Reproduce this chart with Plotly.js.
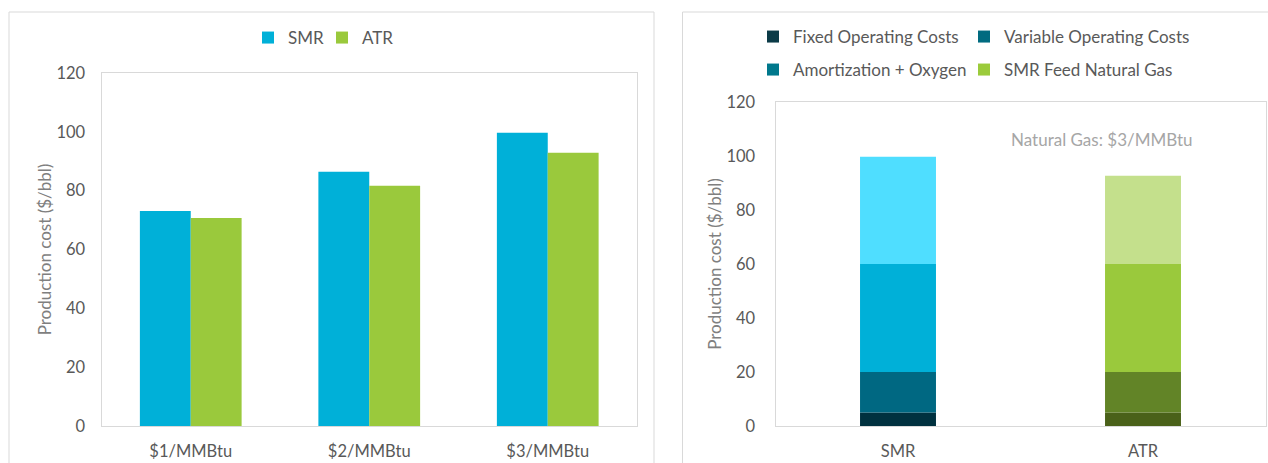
<!DOCTYPE html>
<html>
<head>
<meta charset="utf-8">
<script src="https://cdn.plot.ly/plotly-3.0.1.min.js"></script>
<style>html,body{margin:0;padding:0;background:#fff;}#chart{width:1268px;height:463px;}</style>
</head>
<body>
<div id="chart"></div>
<script>
// ---- Data ----
const priceCategories = ['$1/MMBtu', '$2/MMBtu', '$3/MMBtu'];
const smrCost = [73.1, 86.4, 99.7];
const atrCost = [70.7, 81.7, 92.9];

const processCategories = ['SMR', 'ATR'];
const fixedOperating = [5, 5];
const variableOperating = [15, 15];
const amortizationOxygen = [40, 40];
const feedNaturalGas = [39.7, 32.7];

const componentNames = ['Fixed Operating Costs', 'Variable Operating Costs', 'Amortization + Oxygen', 'SMR Feed Natural Gas'];
const annotationText = 'Natural Gas: $3/MMBtu';

// ---- Styling ----
const FONT = 'Lato, "Open Sans", sans-serif';
const segColors = [
  ['#00313f', '#4a6119'],
  ['#006882', '#628427'],
  ['#00b0d8', '#9ac93c'],
  ['#4fdeff', '#c4e08c']
];
const legendColors = ['#0b3b47', '#006b80', '#00788c', '#9bcb3b'];

const traces = [];
traces.push({type: 'bar', name: 'SMR', x: priceCategories, y: smrCost, marker: {color: '#00b0d8'}, xaxis: 'x', yaxis: 'y', legend: 'legend', hoverinfo: 'y'});
traces.push({type: 'bar', name: 'ATR', x: priceCategories, y: atrCost, marker: {color: '#9ac93c'}, xaxis: 'x', yaxis: 'y', legend: 'legend2', hoverinfo: 'y'});

const series = [fixedOperating, variableOperating, amortizationOxygen, feedNaturalGas];
const base = processCategories.map(() => 0);
series.forEach((vals, i) => {
  traces.push({
    type: 'bar', name: componentNames[i], x: processCategories, y: vals,
    base: base.slice(), offsetgroup: 'stk', width: 0.31, offset: -0.155,
    marker: {color: segColors[i]}, xaxis: 'x2', yaxis: 'y2', showlegend: false, hoverinfo: 'y'
  });
  vals.forEach((v, j) => { base[j] += v; });
});
// legend entries for the stacked chart (one legend per entry: 2 x 2 grid)
componentNames.forEach((n, i) => {
  traces.push({
    type: 'bar', name: n, x: [processCategories[0]], y: [null], marker: {color: legendColors[i]},
    xaxis: 'x2', yaxis: 'y2', showlegend: true, legend: 'legend' + (i + 3), hoverinfo: 'skip'
  });
});

const H = 463, W = 1268;
const fy = px => (H - px) / H;
const fx = px => px / W;
const lineCol = '#d9d9d9';
const tickFont = {family: FONT, size: 16.5, color: '#595959'};
const titleFont = {family: FONT, size: 17, color: '#7f7f7f'};
const legendFont = {family: FONT, size: 17, color: '#595959'};
const leg = (xpx, ypx) => ({orientation: 'h', x: fx(xpx), xanchor: 'left', y: fy(ypx), yanchor: 'middle', font: legendFont,
  bgcolor: 'rgba(0,0,0,0)', itemclick: false, itemdoubleclick: false});

const layout = {
  width: W, height: H,
  margin: {l: 0, r: 0, t: 0, b: 0},
  paper_bgcolor: '#fff', plot_bgcolor: '#fff',
  barmode: 'group', bargap: 0.43, bargroupgap: 0,
  font: {family: FONT, color: '#595959'},
  xaxis: {domain: [fx(101.5), fx(637)], anchor: 'y', type: 'category', showgrid: false, ticks: '',
    showline: true, linecolor: lineCol, linewidth: 1, mirror: true, tickfont: tickFont, ticklabelstandoff: 10, fixedrange: true},
  yaxis: {domain: [fy(426), fy(73)], anchor: 'x', range: [0, 120], dtick: 20, showgrid: false, zeroline: false,
    ticks: 'outside', ticklen: 12, tickcolor: 'rgba(0,0,0,0)',
    showline: true, linecolor: lineCol, linewidth: 1, mirror: true, tickfont: tickFont,
    title: {text: 'Production cost ($/bbl)', font: titleFont, standoff: 0}, fixedrange: true},
  xaxis2: {domain: [fx(775.5), fx(1265.5)], anchor: 'y2', type: 'category', showgrid: false, ticks: '',
    showline: true, linecolor: lineCol, linewidth: 1, mirror: true, tickfont: tickFont, ticklabelstandoff: 10, fixedrange: true},
  yaxis2: {domain: [fy(426), fy(102)], anchor: 'x2', range: [0, 120], dtick: 20, showgrid: false, zeroline: false,
    ticks: 'outside', ticklen: 16, tickcolor: 'rgba(0,0,0,0)',
    showline: true, linecolor: lineCol, linewidth: 1, mirror: true, tickfont: tickFont,
    title: {text: 'Production cost ($/bbl)', font: titleFont, standoff: 0}, fixedrange: true},
  legend: leg(248, 38),
  legend2: leg(322, 38),
  legend3: leg(753, 37),
  legend4: leg(964, 37),
  legend5: leg(753, 70),
  legend6: leg(964, 70),
  annotations: [{xref: 'paper', yref: 'paper', x: fx(1102), y: fy(139), xanchor: 'center', yanchor: 'middle',
    text: annotationText, showarrow: false, font: {family: FONT, size: 17, color: '#a6a6a6'}}],
  shapes: [
    {type: 'rect', xref: 'paper', yref: 'paper', x0: fx(9), x1: fx(654), y0: -0.1, y1: fy(12), line: {color: lineCol, width: 1}, layer: 'below'},
    {type: 'rect', xref: 'paper', yref: 'paper', x0: fx(682.5), x1: 1.1, y0: -0.1, y1: fy(12), line: {color: lineCol, width: 1}, layer: 'below'}
  ]
};

Plotly.newPlot('chart', traces, layout, {displayModeBar: false, staticPlot: true});
</script>
</body>
</html>
